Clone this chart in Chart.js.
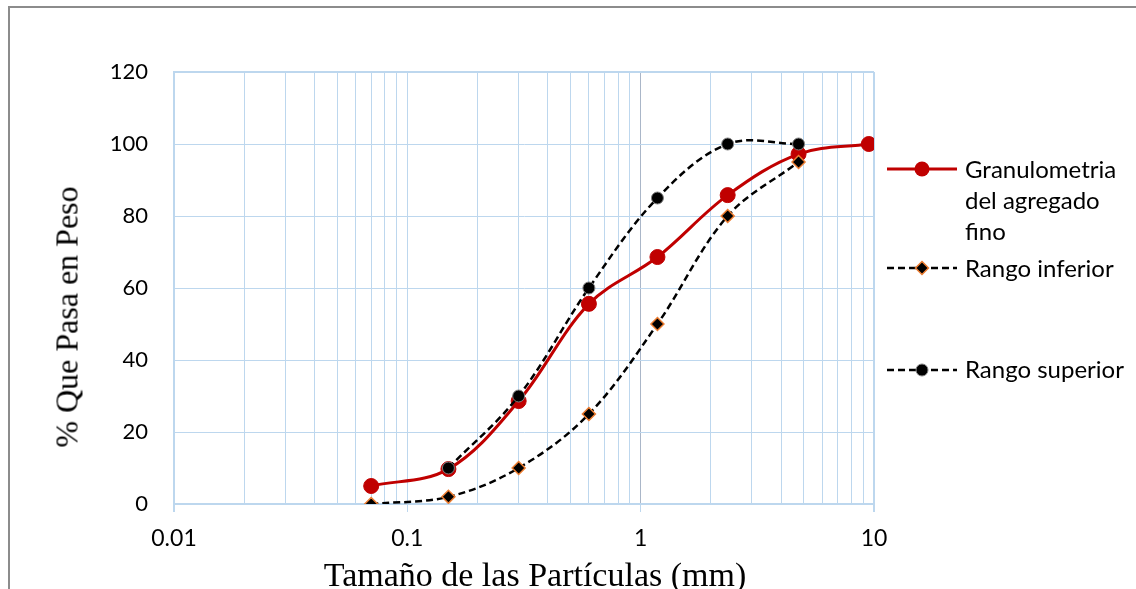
<!DOCTYPE html>
<html>
<head>
<meta charset="utf-8">
<script src="https://cdn.jsdelivr.net/npm/chart.js@4.4.1/dist/chart.umd.min.js"></script>
<style>
    html, body { margin: 0; padding: 0; background: #fff; }
    #wrap { position: relative; width: 1136px; height: 589px; overflow: hidden; }
    #frame { position: absolute; left: 8px; top: 6px; width: 1300px; height: 700px;
             border-top: 2px solid #8c8c8c; border-left: 2px solid #8c8c8c; }
    #chart { position: absolute; left: 0; top: 0; }
    .ytitle { position: absolute; left: 67px; top: 317px; white-space: nowrap; line-height: 1;
              font: 32px "Liberation Serif", "Times New Roman", serif; color: #000;
              transform: translate(-50%, -50%) rotate(-90deg); }
    .xtitle { position: absolute; left: 535px; top: 556px; white-space: nowrap; line-height: 1;
              font: 34px "Liberation Serif", "Times New Roman", serif; color: #000;
              transform: translateX(-50%); }
    .leg { position: absolute; left: 887px; font: 24px Lato, sans-serif; line-height: 31px; color: #000; }
    .leg svg { position: absolute; left: 0; }
    .leg span { display: block; margin-left: 78px; width: 165px; }
</style>
</head>
<body>
<div id="wrap">
    <div id="frame"></div>
    <canvas id="chart" width="1136" height="589"></canvas>
    <div class="ytitle">% Que Pasa en Peso</div>
    <div class="xtitle">Tamaño de las Partículas (mm)</div>
    <div id="legend"></div>
</div>
<script>
// Datos
const xTickLabels = [0.01, 0.1, 1, 10];
const yTicks = [0, 20, 40, 60, 80, 100, 120];

const sizesFino = [0.07, 0.15, 0.3, 0.6, 1.18, 2.36, 4.75, 9.5];
const pasaFino = [5, 9.7, 28.6, 55.6, 68.6, 85.8, 97.2, 100];

const sizesInferior = [0.07, 0.15, 0.3, 0.6, 1.18, 2.36, 4.75];
const pasaInferior = [0, 2, 10, 25, 50, 80, 95];

const sizesSuperior = [0.15, 0.3, 0.6, 1.18, 2.36, 4.75];
const pasaSuperior = [10, 30, 60, 85, 100, 100];

const seriesNames = ["Granulometria del agregado fino", "Rango inferior", "Rango superior"];

const gridBlue = "#bdd7ee";

// lineas de la rejilla logaritmica: 1..9 por decada
const xGrid = [];
for (let i = 0; i < xTickLabels.length - 1; i++) {
    for (let k = 1; k <= 9; k++) xGrid.push(+(k * xTickLabels[i]).toPrecision(3));
}
xGrid.push(xTickLabels[xTickLabels.length - 1]);

function isMajor(v) {
    return xTickLabels.some(m => Math.abs(v - m) / m < 1e-6);
}

function points(xs, ys) {
    return xs.map((x, i) => ({ x: x, y: ys[i] }));
}

new Chart(document.getElementById("chart").getContext("2d"), {
    type: "line",
    data: {
        datasets: [{
            label: seriesNames[2],
            data: points(sizesSuperior, pasaSuperior),
            borderColor: "#000",
            borderWidth: 2.5,
            borderDash: [7, 4],
            pointStyle: "circle",
            pointRadius: 6,
            pointBackgroundColor: "#000",
            pointBorderColor: "#808080",
            pointBorderWidth: 1,
            tension: 0.35,
            order: 0
        }, {
            label: seriesNames[1],
            data: points(sizesInferior, pasaInferior),
            borderColor: "#000",
            borderWidth: 2.5,
            borderDash: [7, 4],
            pointStyle: "rectRot",
            pointRadius: 6.5,
            pointBackgroundColor: "#000",
            pointBorderColor: "#ed7d31",
            pointBorderWidth: 1.5,
            tension: 0.35,
            order: 1
        }, {
            label: seriesNames[0],
            data: points(sizesFino, pasaFino),
            borderColor: "#c00000",
            borderWidth: 3,
            pointStyle: "circle",
            pointRadius: 7.5,
            pointBackgroundColor: "#c00000",
            pointBorderColor: "#c00000",
            pointBorderWidth: 1,
            tension: 0.35,
            order: 2
        }]
    },
    options: {
        responsive: false,
        animation: false,
        devicePixelRatio: 1,
        layout: { padding: { top: 72, right: 262, bottom: 0, left: 0 } },
        plugins: {
            legend: { display: false },
            tooltip: { enabled: false }
        },
        scales: {
            x: {
                type: "logarithmic",
                min: 0.01,
                max: 10,
                afterBuildTicks: scale => { scale.ticks = xGrid.map(v => ({ value: v })); },
                afterFit: scale => { scale.height = 85; },
                ticks: {
                    autoSkip: false,
                    maxRotation: 0,
                    padding: 13,
                    color: "#000",
                    font: { family: "Lato", size: 23 },
                    callback: v => isMajor(v) ? String(v) : ""
                },
                grid: {
                    color: ctx => (ctx.tick && ctx.tick.value === 1) ? "#aab6c8" : gridBlue,
                    lineWidth: ctx => (ctx.tick && (ctx.tick.value === 10 || ctx.tick.value === 0.01)) ? 2 : 1,
                    tickLength: 8,
                    tickColor: ctx => (ctx.tick && isMajor(ctx.tick.value)) ? gridBlue : "rgba(0,0,0,0)"
                },
                border: { color: gridBlue, width: 2 }
            },
            y: {
                min: 0,
                max: 120,
                afterBuildTicks: scale => { scale.ticks = yTicks.map(v => ({ value: v })); },
                afterFit: scale => { scale.width = 174; },
                ticks: {
                    padding: 26,
                    color: "#000",
                    font: { family: "Lato", size: 22 }
                },
                grid: {
                    color: gridBlue,
                    drawTicks: false,
                    lineWidth: ctx => (ctx.tick && ctx.tick.value === 120) ? 2 : 1
                },
                border: { color: gridBlue, width: 2 }
            }
        }
    }
});

// Leyenda a la derecha (texto en varias lineas como en el original)
const legendItems = [
    { name: seriesNames[0], top: 153, svgTop: 6,
      svg: '<line x1="0" y1="10" x2="70" y2="10" stroke="#c00000" stroke-width="3"/>' +
           '<circle cx="35" cy="10" r="7.5" fill="#c00000"/>' },
    { name: seriesNames[1], top: 252, svgTop: 6,
      svg: '<line x1="0" y1="10" x2="70" y2="10" stroke="#000" stroke-width="2.5" stroke-dasharray="7 4"/>' +
           '<polygon points="35,3.5 41.5,10 35,16.5 28.5,10" fill="#000" stroke="#ed7d31" stroke-width="1.5"/>' },
    { name: seriesNames[2], top: 353, svgTop: 7,
      svg: '<line x1="0" y1="10" x2="70" y2="10" stroke="#000" stroke-width="2.5" stroke-dasharray="7 4"/>' +
           '<circle cx="35" cy="10" r="6" fill="#000" stroke="#808080" stroke-width="1"/>' }
];
const legendBox = document.getElementById("legend");
legendItems.forEach(item => {
    const div = document.createElement("div");
    div.className = "leg";
    div.style.top = item.top + "px";
    div.innerHTML = `<svg width="72" height="20" style="top:${item.svgTop}px">${item.svg}</svg><span>${item.name}</span>`;
    legendBox.appendChild(div);
});
</script>
</body>
</html>
